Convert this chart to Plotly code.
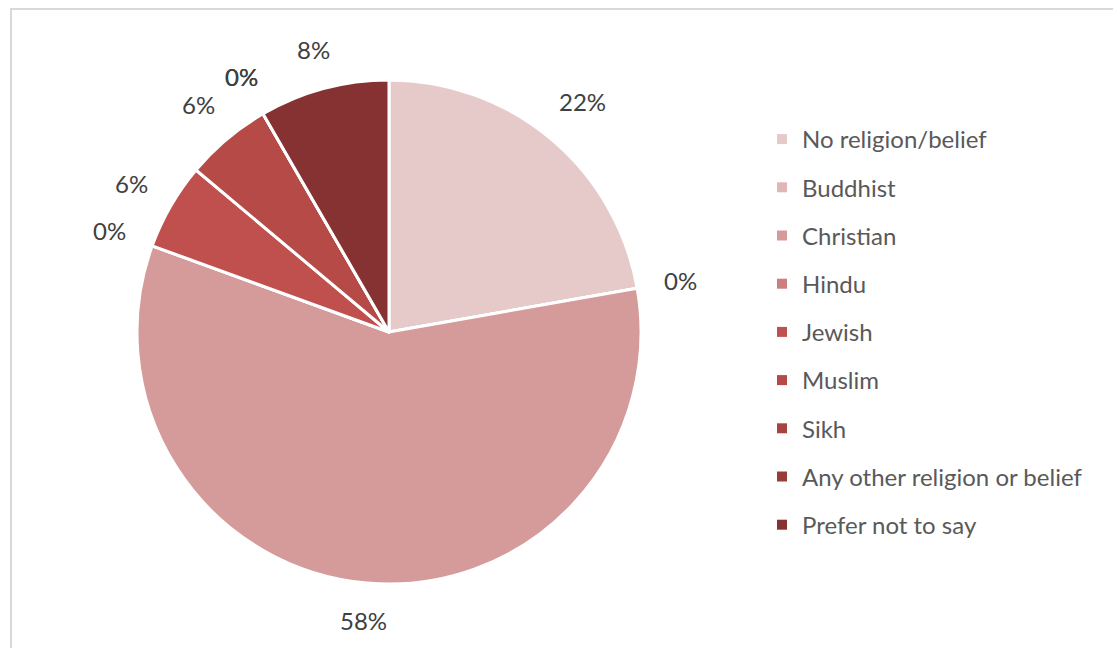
import math
import plotly.graph_objects as go

categories = ["No religion/belief", "Buddhist", "Christian", "Hindu", "Jewish",
              "Muslim", "Sikh", "Any other religion or belief", "Prefer not to say"]
counts = [8, 0, 21, 0, 2, 2, 0, 0, 3]
colors = ["#E6C9C9", "#E0B6B6", "#D59B9A", "#CC7F7E", "#C0504D",
          "#B54A47", "#A8443F", "#983C39", "#863232"]

W, H = 1113, 648
cx, cy, r = 389, 332, 252
FONT = "Lato"
TXT = "#404040"
LEG_TXT = "#595959"

fig = go.Figure()
fig.add_trace(go.Pie(
    labels=categories, values=counts, sort=False, direction="clockwise", rotation=0,
    marker=dict(colors=colors, line=dict(color="white", width=3)),
    textinfo="none", showlegend=False, hoverinfo="label+percent",
    domain=dict(x=[(cx - r) / W, (cx + r) / W], y=[1 - (cy + r) / H, 1 - (cy - r) / H]),
))

# outside-end data labels placed from the slice mid-angles
total = sum(counts)
annotations = []
cum = 0.0
for v in counts:
    mid = (cum + v / 2) / total * 2 * math.pi
    cum += v
    txt = f"{round(100 * v / total)}%"
    w, h = 12 * len(txt) + 10, 20
    s, c = math.sin(mid), math.cos(mid)
    d = r + 26 + abs(s) * w / 2 + abs(c) * h / 2
    px, py = cx + d * s, cy - d * c
    annotations.append(dict(x=px / W, y=1 - py / H, xref="paper", yref="paper",
                            text=txt, showarrow=False, xanchor="center", yanchor="middle",
                            font=dict(size=24, color=TXT, family=FONT)))

for name, col in zip(categories, colors):
    fig.add_trace(go.Scatter(
        x=[None], y=[None], mode="markers", name=name, legendgroup=name,
        marker=dict(symbol="square", size=10, color=col),
    ))

fig.update_layout(
    width=W, height=H, margin=dict(l=0, r=0, t=0, b=0),
    paper_bgcolor="white", plot_bgcolor="white",
    font=dict(family=FONT, color=TXT, size=24),
    xaxis=dict(visible=False), yaxis=dict(visible=False),
    legend=dict(x=762 / W, y=1 - 117 / H, xanchor="left", yanchor="top",
                font=dict(size=24, color=LEG_TXT, family=FONT),
                tracegroupgap=14, itemwidth=30, bgcolor="rgba(0,0,0,0)"),
    annotations=annotations,
    shapes=[dict(type="rect", xref="paper", yref="paper",
                 x0=11 / W, x1=1.02, y0=-0.02, y1=1 - 9 / H,
                 line=dict(color="#D9D9D9", width=2), fillcolor="rgba(0,0,0,0)", layer="below")],
)
fig.write_html("out.html", config={"displayModeBar": False},
               post_script="document.body.style.margin='0';")
